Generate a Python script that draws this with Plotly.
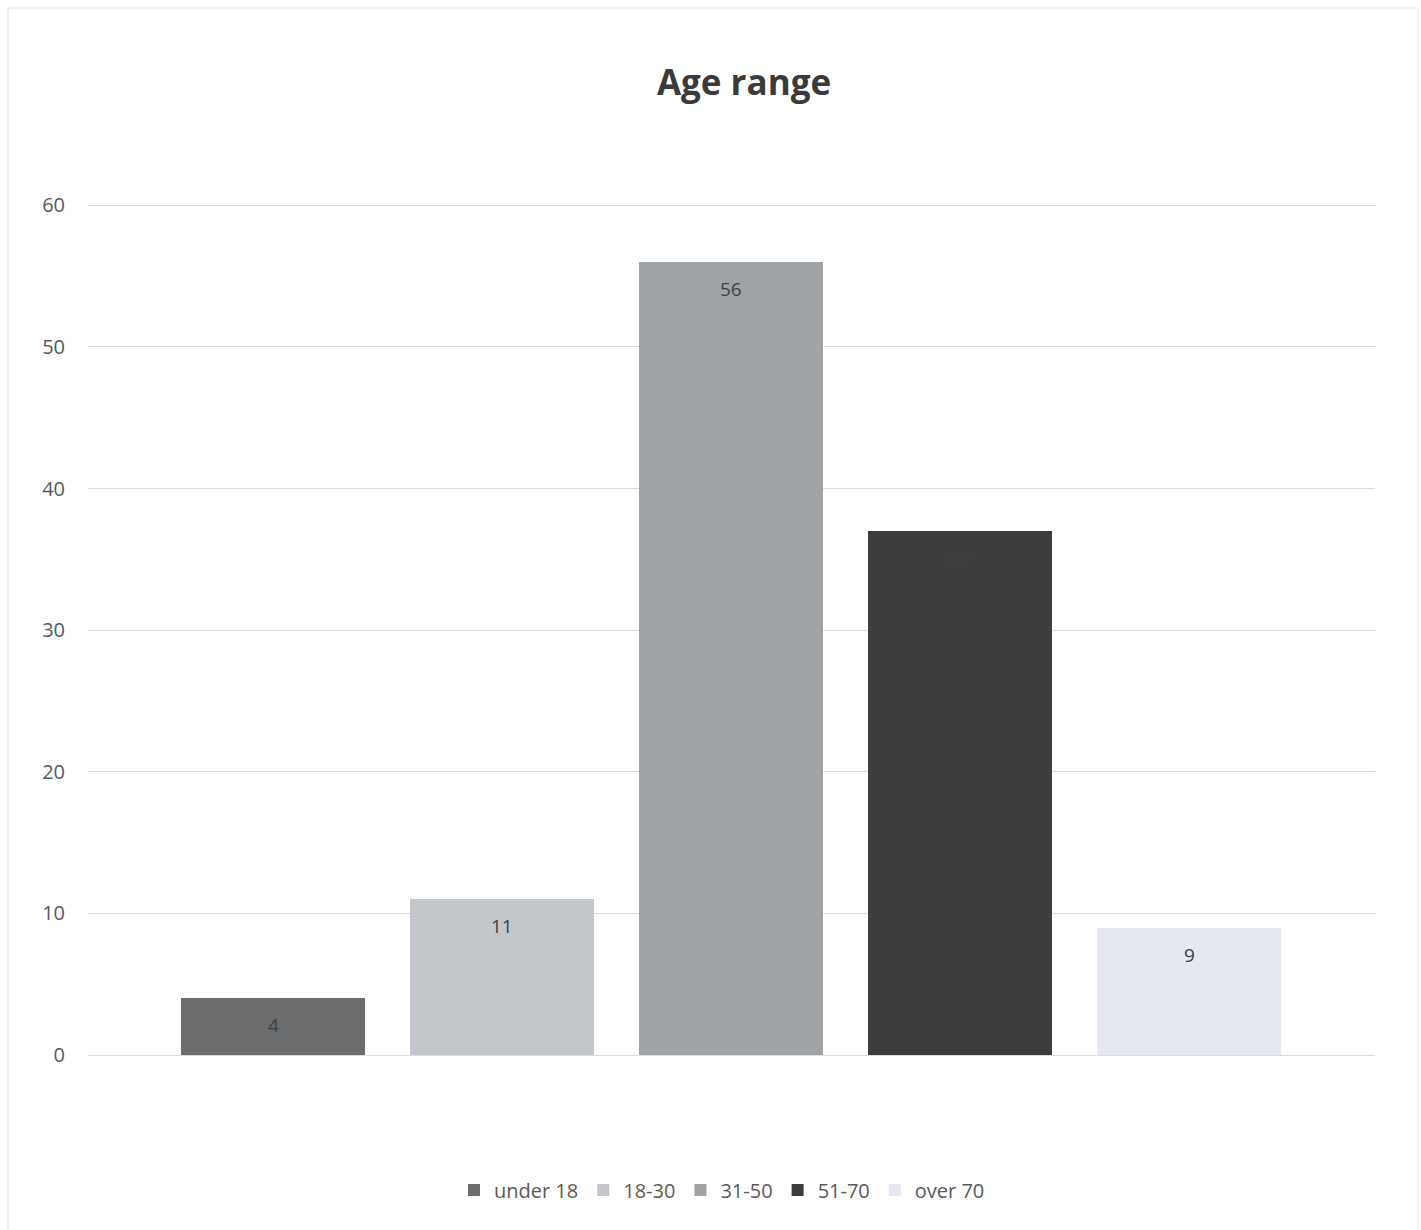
import plotly.graph_objects as go

categories = ["under 18", "18-30", "31-50", "51-70", "over 70"]
values = [4, 11, 56, 37, 9]
colors = ["#6a6c6d", "#c3c6ca", "#a0a3a6", "#3c3e3e", "#e6e8ef"]
y_ticks = [0, 10, 20, 30, 40, 50, 60]

W, H = 1421, 1230
ml, mr, mt, mb = 88, 46, 201, 175

fig = go.Figure()
for i, (name, v, c) in enumerate(zip(categories, values, colors)):
    fig.add_trace(go.Bar(
        x=[i], y=[v], name=name, width=0.8,
        marker=dict(color=c, line=dict(width=0)),
        cliponaxis=False,
    ))
    fig.add_annotation(x=i, y=v, xref="x", yref="y", text=str(v),
                       showarrow=False, yanchor="middle", yshift=-27,
                       font=dict(family="Open Sans", size=19, color="#404040"))

fig.update_layout(
    width=W, height=H,
    margin=dict(l=ml, r=mr, t=mt, b=mb),
    paper_bgcolor="white", plot_bgcolor="white",
    font=dict(family="Open Sans", color="#595959"),
    title=dict(text="<b>Age range</b>", x=(744 - ml) / (W - ml - mr), xref="paper",
               xanchor="center", y=1 - 83 / H, yanchor="middle",
               font=dict(family="Open Sans", size=35, color="#3a3a3a")),
    showlegend=True,
    legend=dict(orientation="h", x=(722 - ml) / (W - ml - mr), xref="paper", xanchor="center",
                y=-135 / (H - mt - mb), yanchor="middle",
                font=dict(family="Open Sans", size=20, color="#595959"),
                itemwidth=30, traceorder="normal"),
    bargap=0,
    xaxis=dict(range=[-0.808, 4.812], showticklabels=False, showgrid=False,
               zeroline=False, showline=False, ticks=""),
    yaxis=dict(range=[0, 60.3], tickvals=y_ticks, showgrid=True,
               gridcolor="#dcdcdc", gridwidth=1, zeroline=True,
               zerolinecolor="#dcdcdc", zerolinewidth=1, showline=False,
               ticks="", ticklabelstandoff=22,
               tickfont=dict(family="Open Sans", size=20, color="#595959")),
)

fig.add_shape(type="rect", xref="paper", yref="paper",
              x0=(8 - ml) / (W - ml - mr), x1=(1418 - ml) / (W - ml - mr),
              y0=(mb - 1226) / (H - mt - mb),
              y1=1 + (mt - 8) / (H - mt - mb),
              line=dict(color="#e4e4e4", width=1), layer="below")

fig.write_html("out.html")
